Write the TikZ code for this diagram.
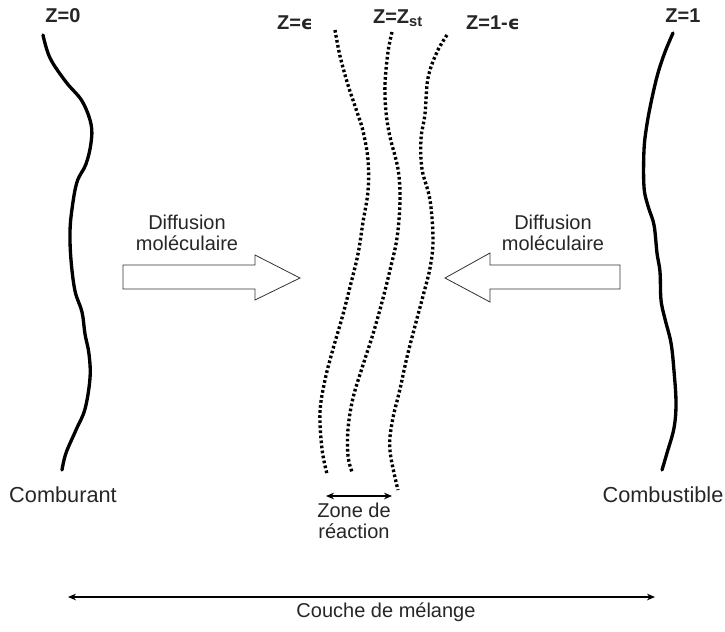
\documentclass[tikz,border=0pt]{standalone}
\usepackage{fontspec}
\setmainfont{Liberation Sans}
\newfontfamily\epsfont{DejaVu Sans}
\usetikzlibrary{arrows.meta}
\tikzset{
  front/.style={line width=2.5pt, line cap=round, line join=round},
  dotline/.style={line width=2.5pt, dash pattern=on 2pt off 1.8pt},
  bigarrow/.style={draw=black!80, line width=0.6pt, fill=white},
  lbl/.style={font=\fontsize{15}{17}\selectfont, text=black!85, align=center, inner sep=0pt},
  sidelbl/.style={font=\fontsize{16.3}{18}\selectfont, text=black!85, inner sep=0pt},
  zlbl/.style={font=\fontsize{15}{17}\selectfont\bfseries, text=black!85, inner sep=0pt},
  dimarrow/.style={line width=0.8pt, {Stealth[length=6pt,width=5pt]}-{Stealth[length=6pt,width=5pt]}}
}
\newcommand{\myeps}{{\epsfont\fontsize{14}{16}\selectfont\bfseries ϵ}}
\begin{document}
\begin{tikzpicture}[x=0.75pt,y=-0.75pt]
\useasboundingbox (0,0) rectangle (725,632);
% left solid front Z=0
\draw[front] plot[smooth, tension=0.6] coordinates {(43,35) (50,58) (66,82) (82,101) (91,124) (91,143) (86,164) (77,182) (72,209) (70,232) (71,260) (75,291) (82,312) (85,334) (89,354) (90,378) (85,409) (76,430) (66,453) (62,470)};
% right solid front Z=1
\draw[front] plot[smooth, tension=0.6] coordinates {(673,33) (665,52) (658,73) (652,98) (647,124) (644,150) (644,187) (648,206) (654,225) (657,253) (660,272) (661,300) (665,319) (671,343) (674,371) (676,403) (674,428) (667,453) (662,470)};
% dotted iso-lines
\draw[dotline] plot[smooth, tension=0.6] coordinates {(335,30) (340,56) (348,85) (357,112) (363,131) (368,160) (368,191) (363,222) (358,254) (350,287) (342,318) (333,349) (325,380) (320,412) (322,449) (327,474)};
\draw[dotline] plot[smooth, tension=0.6] coordinates {(392,32) (388,52) (385,84) (386,112) (390,137) (398,169) (400,200) (397,238) (390,270) (382,302) (373,334) (363,365) (353,398) (348,429) (348,456) (352,472)};
\draw[dotline] plot[smooth, tension=0.6] coordinates {(447,35) (437,52) (428,78) (425,114) (421,139) (422,169) (430,200) (433,240) (430,268) (423,296) (415,326) (407,357) (400,389) (392,423) (390,451) (398,490)};
% labels at top
\node[zlbl] (z0) at (63,16) {Z=0};
\node[zlbl] (zeps) at (295,23) {Z=\myeps};
\node[zlbl] (zst) at (398,18) {Z=Z\textsubscript{\fontsize{11}{12}\selectfont st}};
\node[zlbl] (z1e) at (493,23) {Z=1-\myeps};
\node[zlbl] (z1) at (683,16) {Z=1};
% block arrows
\draw[bigarrow] (123,265) -- (255,265) -- (255,255) -- (300,278) -- (255,300) -- (255,289) -- (123,289) -- cycle;
\draw[bigarrow] (620,265) -- (490,265) -- (490,253) -- (445,278) -- (490,302) -- (490,289) -- (620,289) -- cycle;
\node[lbl] (dl) at (187,233) {Diffusion\\[-1pt]moléculaire};
\node[lbl] (dr) at (553,233) {Diffusion\\[-1pt]moléculaire};
% bottom labels
\node[sidelbl] (comb) at (63,495) {Comburant};
\node[sidelbl] (fuel) at (663,495) {Combustible};
% reaction zone
\coordinate (ra) at (326,496);
\coordinate (rb) at (392,496);
\draw[dimarrow] (ra) -- (rb);
\node[lbl] (zone) at (354,521) {Zone de\\[-1pt]réaction};
% mixing layer
\coordinate (ma) at (68,597);
\coordinate (mb) at (655,597);
\draw[dimarrow] (ma) -- (mb);
\node[lbl] (couche) at (386,612) {Couche de mélange};
\end{tikzpicture}
\end{document}
